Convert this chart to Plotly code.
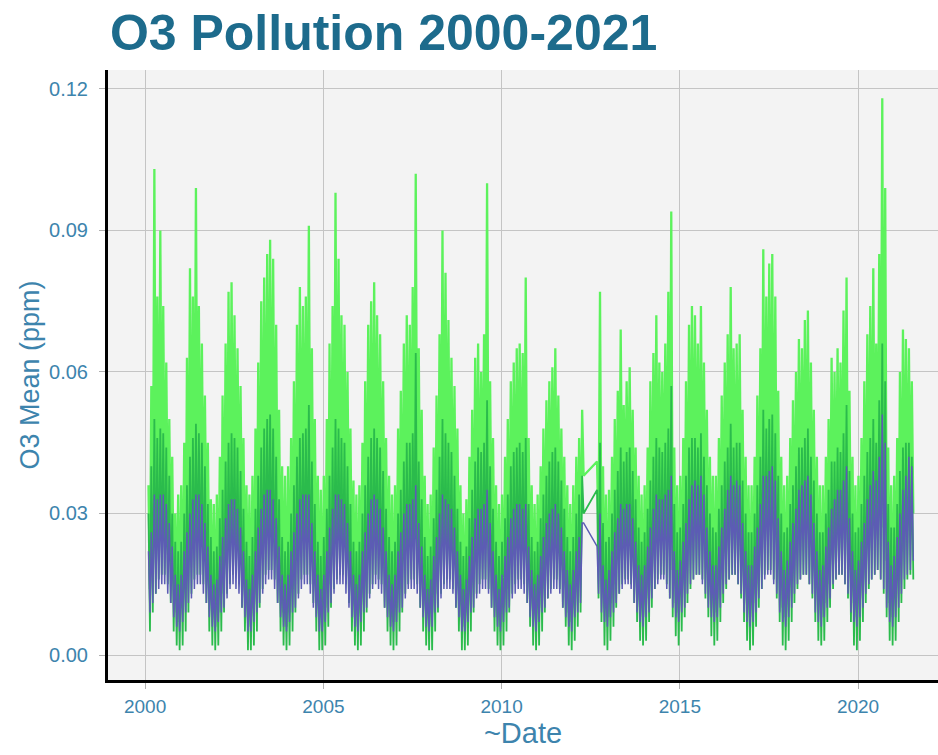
import plotly.graph_objects as go
import pandas as pd

N = None
YEARS = list(range(2000, 2022))
TICK_YEARS = [2000, 2005, 2010, 2015, 2020]
Y_TICKS = [0.00, 0.03, 0.06, 0.09, 0.12]

# Monthly high / low readings (thousandths of ppm), one row per year Jan..Dec
LG_HI = [
    N, 36, 57, 103, 76, 90, 74, 62, 50, 42, 30, 34,
    36, 45, 63, 82, 76, 99, 74, 66, 55, 45, 33, 32,
    34, 42, 55, 66, 77, 79, 72, 65, 57, 46, 36, 34,
    38, 48, 62, 75, 80, 85, 88, 84, 70, 52, 40, 38,
    40, 46, 58, 70, 78, 74, 76, 91, 65, 50, 38, 35,
    38, 50, 66, 74, 98, 84, 72, 70, 60, 48, 37, 34,
    36, 45, 58, 70, 75, 79, 72, 68, 58, 46, 38, 34,
    36, 48, 56, 66, 72, 70, 78, 102, 65, 52, 38, 32,
    34, 44, 55, 68, 90, 81, 71, 63, 57, 48, 36, 30,
    33, 42, 52, 63, 66, 60, 68, 100, 58, 46, 36, 32,
    34, 42, 50, 58, 62, 65, 66, 64, 80, 46, 36, 32,
    34, 40, 48, 54, 58, 61, 65, 55, 48, 42, 36, 32,
    36, 42, 46, 52, N, N, N, N, 41, 77, 40, 34,
    35, 42, 50, 56, 69, 53, 58, 61, 52, 44, 38, 34,
    36, 44, 58, 64, 72, 62, 60, 66, 77, 94, 44, 36,
    38, 46, 58, 70, 74, 72, 66, 74, 62, 52, 42, 38,
    38, 46, 55, 62, 68, 78, 65, 66, 68, 52, 42, 36,
    36, 42, 55, 65, 86, 76, 83, 85, 76, 56, 42, 36,
    38, 46, 54, 60, 67, 65, 71, 73, 62, 52, 42, 36,
    36, 42, 50, 63, 60, 65, 62, 73, 80, 56, 42, 36,
    38, 46, 58, 68, 74, 82, 66, 85, 118, 99, 44, 36,
    38, 46, 60, 69, 67, 65, 58, N, N, N, N, N,
]
LG_LO = [
    N, 14, 20, 26, 30, 32, 30, 28, 22, 15, 9, 7,
    10, 14, 20, 26, 30, 32, 32, 30, 23, 16, 9, 6,
    9, 13, 19, 25, 29, 31, 31, 29, 23, 15, 8, 6,
    10, 15, 21, 27, 31, 34, 34, 31, 25, 17, 9, 6,
    9, 14, 20, 26, 30, 32, 32, 30, 24, 16, 8, 6,
    10, 15, 21, 27, 31, 33, 32, 30, 24, 15, 8, 6,
    9, 14, 20, 26, 30, 32, 31, 29, 23, 15, 8, 7,
    10, 14, 20, 26, 30, 31, 31, 29, 23, 16, 9, 6,
    9, 13, 19, 25, 29, 31, 31, 28, 22, 15, 8, 6,
    9, 13, 19, 25, 28, 30, 30, 28, 22, 15, 8, 6,
    10, 14, 20, 25, 28, 30, 30, 28, 23, 16, 9, 7,
    10, 14, 19, 24, 27, 29, 29, 27, 22, 16, 9, 7,
    11, 15, 20, 38, N, N, N, N, 25, 18, 10, 8,
    11, 15, 21, 26, 29, 30, 30, 28, 23, 17, 10, 8,
    12, 16, 22, 27, 30, 31, 31, 29, 24, 18, 11, 9,
    13, 17, 22, 27, 30, 32, 31, 29, 25, 19, 12, 9,
    12, 16, 22, 27, 30, 32, 31, 29, 24, 18, 11, 8,
    11, 15, 21, 27, 31, 33, 33, 30, 25, 18, 10, 8,
    12, 16, 22, 27, 30, 32, 32, 29, 24, 18, 11, 8,
    11, 15, 21, 26, 29, 31, 31, 29, 24, 18, 11, 8,
    12, 16, 22, 27, 30, 32, 33, 31, 27, 20, 11, 8,
    12, 16, 22, 27, 30, 32, 30, N, N, N, N, N,
]
DG_HI = [
    N, 30, 40, 50, 46, 48, 47, 44, 38, 30, 24, 22,
    24, 30, 36, 42, 46, 49, 47, 45, 40, 32, 25, 22,
    23, 29, 35, 41, 45, 47, 46, 44, 39, 31, 24, 21,
    25, 31, 38, 44, 48, 50, 51, 48, 42, 33, 25, 22,
    24, 30, 36, 42, 46, 47, 48, 53, 41, 32, 24, 21,
    25, 31, 38, 44, 50, 48, 46, 45, 40, 32, 24, 22,
    24, 30, 36, 42, 46, 48, 46, 44, 39, 31, 25, 22,
    24, 30, 35, 41, 45, 45, 47, 64, 41, 33, 25, 21,
    23, 29, 35, 42, 50, 47, 45, 43, 38, 31, 24, 21,
    23, 29, 35, 41, 44, 43, 45, 54, 40, 31, 24, 21,
    24, 29, 34, 40, 43, 44, 45, 43, 46, 32, 25, 22,
    24, 29, 34, 38, 41, 43, 44, 41, 37, 31, 25, 22,
    25, 30, 34, 38, N, N, N, N, 35, 45, 28, 24,
    25, 30, 35, 39, 44, 41, 43, 44, 39, 33, 27, 24,
    26, 31, 37, 42, 46, 44, 43, 45, 48, 57, 32, 26,
    27, 32, 38, 44, 46, 46, 44, 47, 42, 36, 30, 27,
    26, 31, 36, 41, 44, 49, 44, 45, 45, 37, 30, 26,
    26, 30, 36, 42, 52, 48, 50, 51, 47, 38, 30, 26,
    27, 32, 36, 40, 44, 44, 46, 48, 42, 37, 30, 26,
    26, 30, 35, 41, 41, 44, 43, 47, 53, 39, 30, 26,
    27, 32, 38, 43, 46, 50, 45, 54, 66, 58, 32, 27,
    27, 32, 39, 44, 45, 45, 42, N, N, N, N, N,
]
DG_LO = [
    N, 5, 9, 13, 16, 17, 17, 15, 11, 5, 2, 1,
    2, 5, 9, 13, 16, 17, 17, 15, 11, 5, 2, 1,
    2, 5, 9, 13, 15, 17, 17, 15, 10, 5, 1, 1,
    2, 5, 10, 14, 17, 18, 18, 16, 11, 5, 2, 1,
    2, 5, 9, 13, 16, 17, 17, 15, 11, 5, 1, 1,
    2, 6, 10, 14, 16, 17, 17, 15, 11, 5, 2, 1,
    2, 5, 9, 13, 15, 17, 16, 15, 10, 5, 2, 1,
    2, 5, 9, 13, 15, 16, 16, 15, 10, 5, 2, 1,
    1, 5, 9, 13, 15, 16, 16, 14, 10, 5, 1, 1,
    2, 5, 9, 13, 15, 16, 16, 14, 10, 5, 2, 1,
    2, 5, 9, 13, 15, 16, 16, 15, 11, 6, 2, 1,
    2, 5, 9, 12, 14, 16, 16, 14, 10, 6, 2, 1,
    3, 6, 9, 30, N, N, N, N, 12, 7, 2, 1,
    3, 6, 10, 13, 15, 16, 16, 15, 11, 7, 3, 2,
    3, 7, 10, 14, 16, 17, 17, 15, 12, 8, 4, 2,
    5, 8, 11, 14, 16, 17, 17, 16, 12, 8, 4, 2,
    3, 7, 11, 14, 16, 17, 17, 15, 12, 7, 3, 1,
    2, 6, 10, 14, 17, 18, 18, 16, 12, 7, 2, 1,
    3, 7, 11, 14, 16, 17, 17, 15, 12, 7, 3, 2,
    3, 7, 10, 14, 16, 17, 17, 15, 12, 7, 2, 1,
    3, 7, 11, 14, 16, 17, 18, 16, 13, 8, 3, 2,
    3, 7, 11, 14, 16, 17, 16, N, N, N, N, N,
]
PU_HI = [
    N, 22, 26, 34, 33, 34, 34, 32, 28, 23, 17, 15,
    17, 22, 26, 30, 33, 34, 34, 32, 28, 23, 17, 15,
    16, 21, 25, 29, 32, 33, 33, 31, 27, 22, 16, 14,
    17, 22, 27, 31, 34, 35, 35, 33, 29, 23, 17, 15,
    17, 22, 26, 30, 33, 34, 34, 34, 28, 22, 17, 14,
    17, 22, 27, 31, 34, 34, 33, 32, 28, 22, 17, 15,
    17, 22, 26, 30, 33, 34, 33, 31, 27, 22, 17, 15,
    17, 22, 26, 30, 32, 32, 33, 36, 28, 23, 17, 14,
    16, 21, 25, 30, 34, 33, 32, 31, 27, 22, 17, 14,
    16, 21, 25, 29, 31, 31, 32, 35, 28, 22, 17, 14,
    17, 21, 25, 29, 31, 32, 32, 31, 32, 23, 18, 15,
    17, 21, 25, 28, 30, 31, 32, 30, 27, 22, 18, 15,
    18, 22, 25, 28, N, N, N, N, 23, 30, 19, 16,
    18, 22, 26, 29, 32, 31, 32, 32, 29, 24, 19, 17,
    19, 23, 27, 31, 34, 33, 33, 34, 35, 38, 22, 18,
    20, 24, 28, 33, 36, 37, 36, 38, 34, 27, 22, 19,
    19, 23, 27, 31, 35, 38, 36, 37, 36, 28, 22, 19,
    19, 23, 27, 32, 38, 38, 39, 40, 37, 29, 22, 18,
    20, 24, 28, 31, 35, 36, 37, 38, 34, 28, 22, 18,
    19, 23, 27, 31, 33, 35, 35, 37, 40, 29, 22, 18,
    20, 24, 28, 33, 36, 39, 37, 42, 51, 45, 24, 19,
    21, 25, 30, 35, 38, 42, 40, N, N, N, N, N,
]
PU_LO = [
    N, 9, 11, 13, 14, 15, 15, 13, 11, 8, 6, 5,
    7, 9, 11, 12, 14, 15, 15, 13, 11, 8, 6, 5,
    7, 9, 10, 12, 14, 15, 14, 13, 10, 8, 5, 5,
    7, 9, 11, 13, 15, 16, 16, 14, 11, 8, 6, 5,
    7, 9, 10, 12, 14, 15, 15, 13, 10, 8, 5, 5,
    7, 9, 11, 13, 15, 15, 15, 13, 10, 8, 6, 5,
    7, 9, 10, 12, 14, 15, 14, 13, 10, 8, 6, 5,
    7, 9, 10, 12, 14, 14, 14, 13, 10, 8, 6, 5,
    6, 9, 10, 12, 14, 14, 14, 13, 10, 8, 5, 5,
    7, 9, 10, 12, 13, 14, 14, 13, 10, 8, 6, 5,
    7, 9, 10, 12, 13, 14, 14, 13, 11, 8, 6, 5,
    7, 9, 10, 12, 13, 14, 14, 13, 10, 8, 6, 5,
    8, 9, 11, 28, N, N, N, N, 13, 9, 7, 6,
    8, 9, 11, 13, 14, 15, 15, 14, 11, 9, 7, 6,
    8, 9, 12, 14, 15, 16, 16, 14, 12, 10, 8, 7,
    9, 10, 13, 15, 16, 17, 17, 15, 13, 10, 8, 7,
    8, 10, 13, 15, 16, 17, 17, 15, 13, 9, 7, 6,
    7, 9, 12, 14, 16, 17, 17, 15, 13, 9, 7, 6,
    8, 10, 13, 15, 16, 17, 17, 15, 13, 9, 7, 6,
    8, 10, 12, 15, 16, 17, 17, 15, 13, 9, 7, 6,
    8, 10, 13, 15, 16, 17, 18, 16, 14, 10, 7, 6,
    8, 10, 13, 16, 17, 18, 20, N, N, N, N, N,
]

LG_COLOR = "#5cf25c"
DG_COLOR = "#2bbb4c"
PU_COLOR = "#5c5cb4"
TITLE_COLOR = "#1d6b8c"
TEXT_COLOR = "#3d84ad"


def build(hi, lo):
    xs, ys = [], []
    for yi, year in enumerate(YEARS):
        for m in range(12):
            h = hi[yi * 12 + m]
            l = lo[yi * 12 + m]
            if h is None:
                continue
            xs.append(f"{year}-{m + 1:02d}-05")
            ys.append(h / 1000)
            xs.append(f"{year}-{m + 1:02d}-20")
            ys.append(l / 1000)
    return xs, ys


fig = go.Figure()
for hi, lo, col, width, name in [(LG_HI, LG_LO, LG_COLOR, 2.3, "max"),
                                 (DG_HI, DG_LO, DG_COLOR, 1.8, "8hr"),
                                 (PU_HI, PU_LO, PU_COLOR, 1.5, "mean")]:
    xs, ys = build(hi, lo)
    fig.add_trace(go.Scatter(x=xs, y=ys, mode="lines", name=name,
                             line=dict(color=col, width=width),
                             hoverinfo="x+y"))

px_per_year = 35.65
x0 = pd.Timestamp("2000-01-01") - pd.Timedelta(days=(145 - 108) / px_per_year * 365.25)
x1 = pd.Timestamp("2000-01-01") + pd.Timedelta(days=(938 - 145) / px_per_year * 365.25)

fig.update_layout(
    width=938, height=755,
    margin=dict(l=108, r=0, t=70, b=75),
    paper_bgcolor="white",
    plot_bgcolor="#f3f3f3",
    showlegend=False,
    font=dict(family="Liberation Sans, Arial, sans-serif", color=TEXT_COLOR),
    title=dict(text="<b>O3 Pollution 2000-2021</b>", x=108 / 938 + 0.002, xanchor="left",
               xref="container", y=1 - 32 / 755, yanchor="middle", yref="container",
               font=dict(size=50, color=TITLE_COLOR, family="Liberation Sans, Arial, sans-serif")),
    xaxis=dict(
        type="date",
        range=[x0.strftime("%Y-%m-%d"), x1.strftime("%Y-%m-%d")],
        tickvals=[f"{y}-01-01" for y in TICK_YEARS],
        ticktext=[str(y) for y in TICK_YEARS],
        showgrid=True, gridcolor="#c4c4c4", gridwidth=1,
        showline=True, linecolor="black", linewidth=3,
        ticks="outside", ticklen=6, tickcolor="#b0b0b0", tickwidth=1,
        ticklabelstandoff=1,
        tickfont=dict(size=19, color=TEXT_COLOR),
        title=dict(text="~Date", font=dict(size=29, color=TEXT_COLOR), standoff=5),
        zeroline=False,
    ),
    yaxis=dict(
        range=[-0.0053, 0.124],
        tickvals=Y_TICKS,
        ticktext=[f"{v:.2f}" for v in Y_TICKS],
        showgrid=True, gridcolor="#c4c4c4", gridwidth=1,
        showline=True, linecolor="black", linewidth=3,
        ticks="outside", ticklen=6, tickcolor="#b0b0b0", tickwidth=1,
        ticklabelstandoff=7,
        tickfont=dict(size=20, color=TEXT_COLOR),
        title=dict(text="O3 Mean (ppm)", font=dict(size=27, color=TEXT_COLOR), standoff=2),
        zeroline=False,
    ),
)

fig.write_html("out.html")
